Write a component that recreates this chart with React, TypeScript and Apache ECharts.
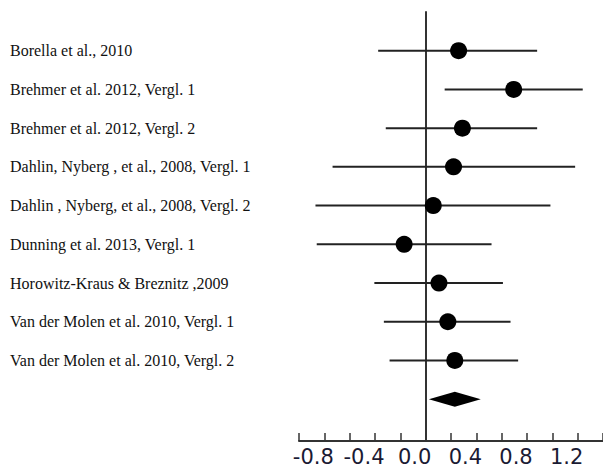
import React, { useEffect, useRef } from "react";
import * as echarts from "echarts";

const studies = [
  "Borella et al., 2010",
  "Brehmer et al. 2012, Vergl. 1",
  "Brehmer et al. 2012, Vergl. 2",
  "Dahlin, Nyberg , et al., 2008, Vergl. 1",
  "Dahlin , Nyberg, et al., 2008, Vergl. 2",
  "Dunning et al. 2013, Vergl. 1",
  "Horowitz-Kraus & Breznitz ,2009",
  "Van der Molen et al. 2010, Vergl. 1",
  "Van der Molen et al. 2010, Vergl. 2",
];
const estimates = [0.26, 0.695, 0.29, 0.22, 0.06, -0.17, 0.105, 0.175, 0.23];
const lowerCI = [-0.375, 0.15, -0.315, -0.735, -0.87, -0.86, -0.405, -0.33, -0.285];
const upperCI = [0.88, 1.24, 0.88, 1.18, 0.985, 0.52, 0.61, 0.67, 0.73];
const summaryEstimate = [0.23];
const summaryLower = [0.025];
const summaryUpper = [0.435];
const tickLabels = ["-0.8", "-0.4", "0.0", "0.4", "0.8", "1.2"];

export default function App() {
  const ref = useRef<HTMLDivElement>(null);
  useEffect(() => {
    if (!ref.current) return;
    const chart = echarts.init(ref.current, null, { renderer: "svg" });
    const ciData = studies.map((_, i) => [lowerCI[i], upperCI[i], i]);
    const pointData = studies.map((_, i) => [estimates[i], i]);
    const sumRow = studies.length;
    const diamondData = summaryEstimate.map((e, k) => [summaryLower[k], e, summaryUpper[k], sumRow]);
    const yBase = {
      type: "value",
      inverse: true,
      min: -1,
      max: 10.08,
      interval: 1,
      splitLine: { show: false },
      axisTick: { show: false },
    };
    chart.setOption({
      animation: false,
      backgroundColor: "#fff",
      grid: { left: 299, right: 0, top: 12, bottom: 27, containLabel: false, outerBoundsMode: "none" },
      xAxis: {
        type: "value",
        min: -1.0,
        max: 1.4,
        interval: 0.2,
        splitLine: { show: false },
        axisLine: { show: true, onZero: false, lineStyle: { color: "#333", width: 2 } },
        axisTick: { show: true, inside: true, length: 8, lineStyle: { color: "#333", width: 1.5 } },
        axisLabel: {
          margin: 5,
          fontFamily: "DejaVu Sans",
          fontSize: 21,
          color: "#1a1a33",
          padding: [0, 22, 0, 0],
          hideOverlap: false,
          formatter: (v: number) => {
            const s = (Math.round(v * 10) / 10).toFixed(1);
            const t = s === "-0.0" ? "0.0" : s;
            return tickLabels.includes(t) ? t : "";
          },
        },
      },
      yAxis: [
        {
          ...yBase,
          axisLine: { show: true, onZero: true, lineStyle: { color: "#333", width: 2 } },
          axisLabel: { show: false },
        },
        {
          ...yBase,
          position: "left",
          offset: 289,
          axisLine: { show: false, onZero: false },
          axisLabel: {
            inside: true,
            margin: 0,
            align: "left",
            fontFamily: "Liberation Serif",
            fontSize: 16,
            color: "#111",
            padding: [0, 0, 5, 0],
            formatter: (v: number) => {
              const i = Math.round(v);
              return i >= 0 && i < studies.length ? studies[i] : "";
            },
          },
        },
      ],
      series: [
        {
          type: "custom",
          data: ciData,
          encode: { x: [0, 1], y: 2 },
          renderItem: (params: any, api: any) => {
            const a = api.coord([api.value(0), api.value(2)]);
            const b = api.coord([api.value(1), api.value(2)]);
            return {
              type: "line",
              shape: { x1: a[0], y1: a[1], x2: b[0], y2: b[1] },
              style: { stroke: "#222", lineWidth: 2 },
            };
          },
          z: 2,
        },
        {
          type: "scatter",
          data: pointData,
          symbol: "circle",
          symbolSize: 17,
          itemStyle: { color: "#000", opacity: 1 },
          z: 3,
        },
        {
          type: "custom",
          data: diamondData,
          encode: { x: [0, 1, 2], y: 3 },
          renderItem: (params: any, api: any) => {
            const l = api.coord([api.value(0), api.value(3)]);
            const c = api.coord([api.value(1), api.value(3)]);
            const r = api.coord([api.value(2), api.value(3)]);
            const h = 7.5;
            return {
              type: "polygon",
              shape: {
                points: [
                  [l[0], l[1]],
                  [c[0], c[1] - h],
                  [r[0], r[1]],
                  [c[0], c[1] + h],
                ],
              },
              style: { fill: "#000" },
            };
          },
          z: 3,
        },
      ],
    });
    return () => chart.dispose();
  }, []);
  return (
    <div
      ref={ref}
      style={{ position: "fixed", left: 0, top: 0, width: 603, height: 468, background: "#fff" }}
    />
  );
}
